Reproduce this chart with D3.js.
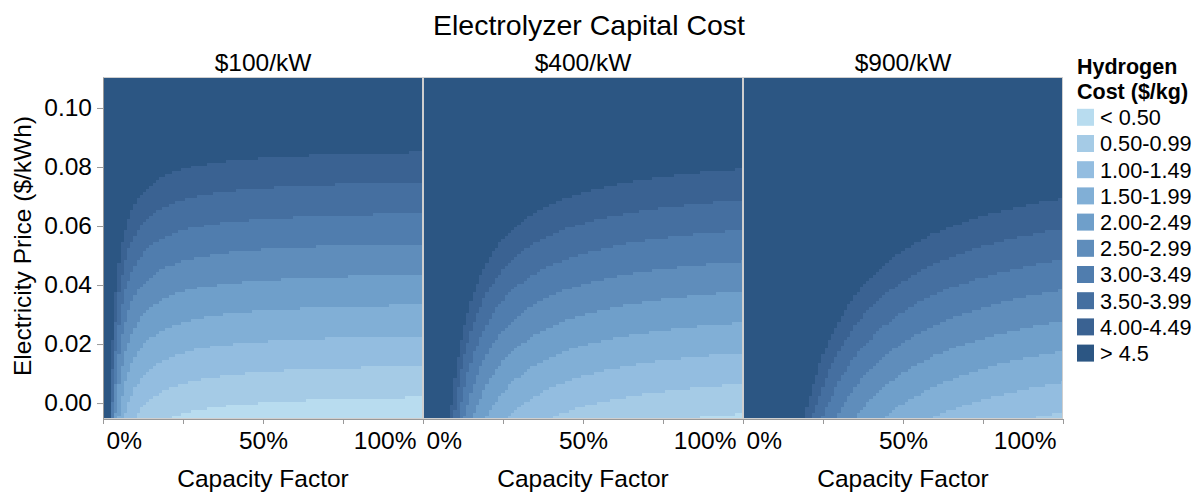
<!DOCTYPE html>
<html>
<head>
<meta charset="utf-8">
<script src="https://cdn.jsdelivr.net/npm/d3@7"></script>
<style>
  body { margin: 0; background: #fff; }
  text { font-family: "Liberation Sans", Arial, sans-serif; fill: #000; }
</style>
</head>
<body>
<div id="chart"></div>
<script>
// Data
var capitalCosts = [100, 400, 900];            // $/kW, one panel each
var panelTitles = ["$100/kW", "$400/kW", "$900/kW"];
var capacityFactors = d3.range(0, 101).map(d => d / 100);       // grid columns
var electricityPrices = d3.range(-5, 111).map(d => d / 1000);   // grid rows, $/kWh
// cost model fitted to the band edges: fixed + capex term / CF + kWh/kg * price
var kwhPerKg = 48.2;
var fixedCost = 0.303;
var capexCostPerKW = 0.00095;

var costThresholds = [0.5, 1.0, 1.5, 2.0, 2.5, 3.0, 3.5, 4.0, 4.5];
var costLabels = ["< 0.50", "0.50-0.99", "1.00-1.49", "1.50-1.99", "2.00-2.49",
                  "2.50-2.99", "3.00-3.49", "3.50-3.99", "4.00-4.49", "> 4.5"];
var costColors = ["#b8dcef", "#a5cbe6", "#93bde0", "#81afd6", "#6f9fca",
                  "#5f8dbb", "#507dae", "#456fa0", "#3a6292", "#2c5683"];
var xTicks = [0, 0.25, 0.5, 0.75, 1];
var yTicks = [0, 0.02, 0.04, 0.06, 0.08, 0.10];

// Chart set up
var svgWidth = 1195, svgHeight = 492;
var panelLeft = 103, panelTop = 77, panelWidth = 320, panelHeight = 342;

var svg = d3.select("#chart").append("svg")
    .attr("width", svgWidth)
    .attr("height", svgHeight);

var xScale = d3.scaleLinear().domain([0, 1]).range([0, panelWidth]);
var yScale = d3.scaleLinear().domain([-0.0054, 0.1105]).range([panelHeight, 0]);
var color = d3.scaleThreshold().domain(costThresholds).range(costColors);

var cfStep = 0.01, pStep = 0.001;

svg.append("text")
    .attr("x", 589).attr("y", 35)
    .attr("text-anchor", "middle")
    .attr("font-size", 28.5)
    .text("Electrolyzer Capital Cost");

capitalCosts.forEach(function(cap, i) {
    var g = svg.append("g")
        .attr("transform", `translate(${panelLeft + i * panelWidth}, ${panelTop})`);

    svg.append("clipPath").attr("id", "clip" + i)
      .append("rect").attr("width", panelWidth).attr("height", panelHeight);

    // merge vertical runs of the same band in each column
    var cells = [];
    capacityFactors.forEach(function(cf) {
        var run = null;
        electricityPrices.forEach(function(p) {
            var cost = cf > 0 ? fixedCost + capexCostPerKW * cap / cf + kwhPerKg * p : Infinity;
            var c = color(cost);
            if (run && run.c === c) { run.p1 = p; }
            else { run = {cf: cf, p0: p, p1: p, c: c}; cells.push(run); }
        });
    });

    // snap cell edges to whole pixels so neighbouring cells meet without seams
    var sx = v => Math.round(xScale(v)), sy = v => Math.round(yScale(v));

    g.append("g").attr("clip-path", `url(#clip${i})`)
      .attr("shape-rendering", "crispEdges")
      .selectAll("rect")
      .data(cells)
      .enter().append("rect")
        .attr("x", d => sx(d.cf - cfStep / 2))
        .attr("width", d => sx(d.cf + cfStep / 2) - sx(d.cf - cfStep / 2))
        .attr("y", d => sy(d.p1 + pStep / 2))
        .attr("height", d => sy(d.p0 - pStep / 2) - sy(d.p1 + pStep / 2))
        .attr("fill", d => d.c);

    g.append("rect")
        .attr("x", 0.5).attr("y", 0.5)
        .attr("width", panelWidth - 1).attr("height", panelHeight - 1)
        .attr("fill", "none").attr("stroke", "#cfcfcf").attr("stroke-width", 1);

    // panel header
    svg.append("text")
        .attr("x", panelLeft + i * panelWidth + panelWidth / 2)
        .attr("y", 71)
        .attr("text-anchor", "middle")
        .attr("font-size", 24.5)
        .text(panelTitles[i]);

    // x axis
    var xAxis = g.append("g")
        .attr("transform", `translate(0, ${panelHeight})`)
        .call(d3.axisBottom(xScale).tickValues(xTicks).tickSize(5).tickSizeOuter(0)
            .tickFormat(d => (d === 0.25 || d === 0.75) ? "" : d3.format(".0%")(d)));
    xAxis.select(".domain").attr("stroke", "#999");
    xAxis.selectAll(".tick line").attr("stroke", "#999");
    xAxis.selectAll(".tick text")
        .attr("font-size", 24.5).attr("font-family", null).attr("fill", "#000")
        .attr("y", 13).attr("dy", "0.71em")
        .attr("text-anchor", d => d === 0 ? "start" : d === 1 ? "end" : "middle")
        .attr("dx", d => d === 0 ? 3 : d === 1 ? -7 : 0);

    svg.append("text")
        .attr("x", panelLeft + i * panelWidth + panelWidth / 2)
        .attr("y", 487)
        .attr("text-anchor", "middle")
        .attr("font-size", 24.5)
        .text("Capacity Factor");

    if (i === 0) {
        var yAxis = g.append("g")
            .call(d3.axisLeft(yScale).tickValues(yTicks).tickSize(6).tickSizeOuter(0)
                .tickFormat(d3.format(".2f")));
        yAxis.select(".domain").attr("stroke", "#999");
        yAxis.selectAll(".tick line").attr("stroke", "#999");
        yAxis.selectAll(".tick text")
            .attr("font-size", 24.5).attr("font-family", null).attr("fill", "#000")
            .attr("x", -11);
    }
});

// y axis title
svg.append("text")
    .attr("transform", `translate(31, ${panelTop + panelHeight / 2 - 2}) rotate(-90)`)
    .attr("text-anchor", "middle")
    .attr("font-size", 24.5)
    .text("Electricity Price ($/kWh)");

// legend
var legend = svg.append("g");
legend.append("text").attr("x", 1077).attr("y", 74)
    .attr("font-size", 21.5).attr("font-weight", "bold").text("Hydrogen");
legend.append("text").attr("x", 1077).attr("y", 99)
    .attr("font-size", 21.5).attr("font-weight", "bold").text("Cost ($/kg)");

var items = legend.selectAll(".item")
    .data(costLabels)
    .enter().append("g")
    .attr("transform", (d, i) => `translate(1077, ${117.3 + i * 26.2})`);
items.append("rect")
    .attr("x", 0).attr("y", -8.5).attr("width", 17).attr("height", 17)
    .attr("fill", (d, i) => costColors[i]);
items.append("text")
    .attr("x", 23).attr("dy", "0.36em")
    .attr("font-size", 21.7)
    .text(d => d);
</script>
</body>
</html>
